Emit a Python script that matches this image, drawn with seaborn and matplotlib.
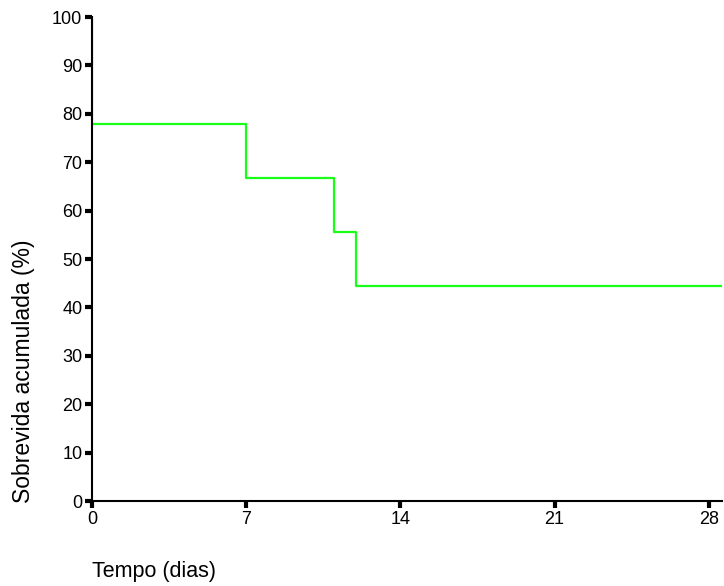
import matplotlib
matplotlib.use("Agg")
import matplotlib.pyplot as plt
import seaborn as sns
import pandas as pd

# Data (Kaplan-Meier style step curve)
tempo = [0, 0, 7, 11, 12, 28.6]
sobrevida = [100, 77.8, 66.7, 55.6, 44.4, 44.4]
x_ticks = [0, 7, 14, 21, 28]
y_ticks = [0, 10, 20, 30, 40, 50, 60, 70, 80, 90, 100]

sns.set_theme(style="white")
plt.rcParams['font.family'] = ['Liberation Sans', 'DejaVu Sans']

df = pd.DataFrame({"tempo": tempo, "sobrevida": sobrevida})

fig = plt.figure(figsize=(7.24, 5.86), dpi=100)
ax = fig.add_axes([92/724, 1 - 501/586, (722 - 92)/724, (501 - 17)/586])

sns.lineplot(data=df, x="tempo", y="sobrevida", ax=ax, color="#1aff1a",
             linewidth=1.6, drawstyle="steps-post", sort=False, estimator=None)

ax.set_xlim(0, 28.6)
ax.set_ylim(0, 100)
ax.set_xticks(x_ticks)
ax.set_yticks(y_ticks)
ax.set_xlabel("")
ax.set_ylabel("")

for s in ["top", "right"]:
    ax.spines[s].set_visible(False)
for s in ["left", "bottom"]:
    ax.spines[s].set_color("black")
    ax.spines[s].set_linewidth(1.5)

ax.tick_params(axis="both", which="major", direction="out", length=5, width=3,
               color="black", labelsize=13, labelcolor="black", pad=2,
               left=True, bottom=True)
for t in ax.xaxis.get_ticklines() + ax.yaxis.get_ticklines():
    t.set_solid_capstyle("round")

fig.text(24/724, 1 - 371/586, "Sobrevida acumulada (%)", rotation=90,
         ha="center", va="center", fontsize=16.5, color="black")
fig.text(92/724, 1 - 572/586, "Tempo (dias)", ha="left", va="center",
         fontsize=15.5, color="black")

fig.savefig("out.png", dpi=100, facecolor="white")
